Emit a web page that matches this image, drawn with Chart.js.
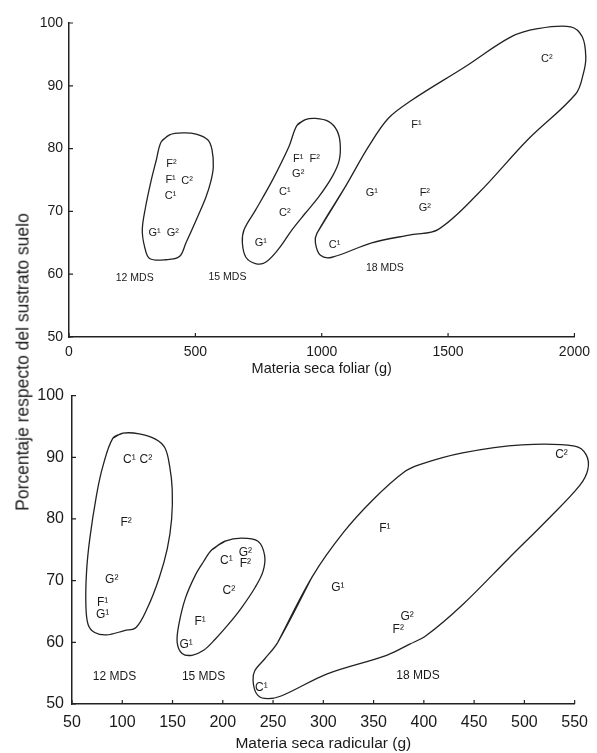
<!DOCTYPE html>
<html>
<head>
<meta charset="utf-8">
<script src="https://cdn.jsdelivr.net/npm/chart.js@4.4.0/dist/chart.umd.min.js"></script>
<style>
  html, body { margin: 0; padding: 0; background: #fff; }
  #wrap { position: relative; width: 597px; height: 753px; }
  #topBox { position: absolute; left: 0; top: 0; width: 597px; height: 378px; }
  #botBox { position: absolute; left: 0; top: 378px; width: 597px; height: 375px; }
  #ytitle {
    position: absolute; left: 23px; top: 362px;
    transform: translate(-50%, -50%) rotate(-90deg);
    white-space: nowrap; color: #1a1a1a;
    font: 17.5px "Liberation Sans", Arial, sans-serif;
  }
</style>
</head>
<body>
<div id="wrap">
  <div id="topBox"><canvas id="foliarChart"></canvas></div>
  <div id="botBox"><canvas id="radicularChart"></canvas></div>
  <div id="ytitle">Porcentaje respecto del sustrato suelo</div>
</div>
<script>
  // ---- shared ----
  const yTicks = [50, 60, 70, 80, 90, 100];
  const groupNames = ['12 MDS', '15 MDS', '18 MDS'];

  // ---- top: materia seca foliar ----
  const foliarTicks = [0, 500, 1000, 1500, 2000];
  const foliarPtLabels = ['F²', 'F¹', 'C²', 'C¹', 'G¹', 'G²',
                          'F¹', 'F²', 'G²', 'C¹', 'C²', 'G¹',
                          'C²', 'F¹', 'G¹', 'F²', 'G²', 'C¹'];
  const foliarPtX = [405, 402, 467, 402, 339, 411,
                     907, 972, 907, 854, 854, 759,
                     1891, 1375, 1198, 1408, 1408, 1051];
  const foliarPtY = [77.6, 75.0, 74.9, 72.4, 66.5, 66.5,
                     78.3, 78.3, 75.9, 73.1, 69.7, 64.9,
                     94.2, 83.7, 72.9, 72.9, 70.6, 64.6];
  const foliarGroupX = [260, 627, 1250];
  const foliarGroupY = [59.4, 59.6, 60.9];

  // envelopes (outline vertices, clockwise)
  const foliarEnv12X = [365, 398, 450, 503, 549, 566, 571, 562, 542, 503, 463, 437, 385, 319, 299, 290, 303, 325, 345];
  const foliarEnv12Y = [81.1, 82.2, 82.5, 82.3, 81.4, 79.8, 77.1, 74.9, 72.3, 68.6, 65.0, 62.8, 62.3, 62.5, 64.4, 67.1, 70.7, 74.9, 78.1];
  const foliarEnv15X = [902, 935, 975, 1028, 1060, 1073, 1069, 1041, 988, 935, 883, 831, 778, 738, 700, 686, 693, 738, 804, 870];
  const foliarEnv15Y = [83.7, 84.6, 84.8, 84.3, 82.9, 80.8, 78.1, 75.5, 72.3, 69.7, 67.1, 64.1, 61.9, 61.7, 62.7, 65.0, 67.1, 70.2, 74.9, 80.3];
  const foliarEnv18X = [981, 1093, 1185, 1263, 1356, 1566, 1749, 1854, 1985, 2031, 2045, 2035, 2005, 1815, 1618, 1460, 1356, 1198, 1041, 995, 975];
  const foliarEnv18Y = [66.5, 73.9, 80.3, 84.8, 87.7, 93.0, 97.8, 99.1, 99.4, 97.8, 94.6, 91.9, 88.7, 81.4, 72.8, 67.1, 66.3, 65.0, 62.7, 63.0, 65.0];

  // ---- bottom: materia seca radicular ----
  const radicTicks = [50, 100, 150, 200, 250, 300, 350, 400, 450, 500, 550];
  const radicPtLabels = ['C¹', 'C²', 'F²', 'G²', 'F¹', 'G¹',
                         'C¹', 'G²', 'F²', 'C²', 'F¹', 'G¹',
                         'C²', 'F¹', 'G¹', 'G²', 'F²', 'C¹'];
  const radicPtX = [107, 123.5, 103.8, 89.5, 80.5, 80.5,
                    203.5, 222.5, 222.5, 206, 177.5, 163.5,
                    536.9, 361.3, 314.5, 383.4, 374.5, 238.3];
  const radicPtY = [89.6, 89.6, 79.4, 70.2, 66.4, 64.5,
                    73.3, 74.6, 72.8, 68.3, 63.4, 59.6,
                    90.4, 78.4, 68.8, 64.1, 62.1, 52.7];
  const radicGroupX = [92.3, 180.9, 394.2];
  const radicGroupY = [54.4, 54.4, 54.6];

  const radicEnv12X = [90.7, 100.5, 116.9, 133.4, 142.5, 147.1, 149.7, 149.1, 144.8, 136.6, 125.1, 113.7, 102.2, 84.2, 72.6, 66.0, 63.8, 64.5, 67.7, 74.3, 80.8];
  const radicEnv12Y = [93.1, 93.9, 93.8, 92.9, 91.5, 88.6, 84.8, 80.0, 75.2, 70.4, 65.6, 62.4, 61.9, 61.2, 61.6, 62.9, 66.1, 71.5, 76.8, 83.8, 88.6];
  const radicEnv15X = [189.1, 202.3, 218.6, 235.0, 241.6, 240.0, 231.8, 218.6, 205.5, 192.4, 180.9, 169.4, 159.5, 154.6, 156.3, 162.9, 172.7, 180.9];
  const radicEnv15Y = [75.0, 76.4, 76.9, 76.4, 74.1, 71.5, 68.8, 65.6, 62.9, 60.5, 58.7, 57.9, 58.2, 60.0, 62.9, 67.2, 70.9, 73.1];
  const radicEnv18X = [254.7, 289.2, 320.4, 349.9, 379.4, 395.8, 438.5, 497.5, 550.0, 561.5, 563.1, 554.9, 523.7, 484.3, 438.5, 402.4, 385.9, 363.0, 303.9, 258.0, 241.6, 233.4, 230.1, 231.8, 241.6];
  const radicEnv18Y = [60.0, 70.7, 77.9, 83.2, 87.5, 88.8, 90.7, 92.0, 91.8, 90.4, 88.0, 85.4, 80.0, 73.6, 66.1, 61.1, 59.7, 57.9, 54.9, 51.3, 50.9, 51.7, 53.8, 55.4, 57.3];

  const FONT = '"Liberation Sans", Arial, Helvetica, sans-serif';
  const INK = '#1a1a1a';

  function toPoints(xs, ys) {
    return xs.map((x, i) => ({ x: x, y: ys[i] }));
  }
  function closedLoop(xs, ys) {
    const pts = toPoints(xs, ys);
    pts.push(pts[0], pts[1]);
    return pts;
  }

  function envelope(xs, ys) {
    return {
      data: closedLoop(xs, ys),
      showLine: true,
      tension: 0.35,
      borderColor: '#222',
      borderWidth: 1.3,
      pointRadius: 0,
      fill: false,
      clip: false
    };
  }

  function textSet(xs, ys, texts, size) {
    return {
      data: toPoints(xs, ys),
      texts: texts,
      textSize: size,
      showLine: false,
      pointRadius: 0,
      pointHoverRadius: 0
    };
  }

  // draws the text labels at the point positions
  const textPointsPlugin = {
    id: 'textPoints',
    afterDatasetsDraw(chart) {
      const ctx = chart.ctx;
      chart.data.datasets.forEach((ds, i) => {
        if (!ds.texts) return;
        const meta = chart.getDatasetMeta(i);
        ctx.save();
        ctx.fillStyle = INK;
        ctx.font = ds.textSize + 'px ' + FONT;
        ctx.textAlign = 'center';
        ctx.textBaseline = 'middle';
        meta.data.forEach((pt, j) => {
          ctx.fillText(ds.texts[j], pt.x, pt.y);
        });
        ctx.restore();
      });
    }
  };

  // little tick marks pointing into the plot
  const innerTicksPlugin = {
    id: 'innerTicks',
    afterDraw(chart) {
      const ctx = chart.ctx;
      const a = chart.chartArea;
      const xs = chart.scales.x, ys = chart.scales.y;
      ctx.save();
      ctx.strokeStyle = '#222';
      ctx.lineWidth = 1.2;
      ctx.beginPath();
      xs.ticks.forEach(t => {
        const p = xs.getPixelForValue(t.value);
        ctx.moveTo(p, a.bottom);
        ctx.lineTo(p, a.bottom - 4);
      });
      ys.ticks.forEach(t => {
        const p = ys.getPixelForValue(t.value);
        ctx.moveTo(a.left, p);
        ctx.lineTo(a.left + 4, p);
      });
      ctx.stroke();
      ctx.restore();
    }
  };

  function makeOptions(cfg) {
    return {
      responsive: true,
      maintainAspectRatio: false,
      animation: false,
      layout: { padding: cfg.padding },
      plugins: { legend: { display: false }, tooltip: { enabled: false } },
      scales: {
        x: {
          type: 'linear',
          min: cfg.xTicks[0],
          max: cfg.xTicks[cfg.xTicks.length - 1],
          afterBuildTicks: s => { s.ticks = cfg.xTicks.map(v => ({ value: v })); },
          afterFit: s => { s.height = cfg.xHeight; },
          grid: { display: true, drawOnChartArea: false, drawTicks: false },
          border: { display: true, color: '#222', width: 1.5 },
          ticks: { color: INK, font: { family: FONT, size: cfg.tickSize }, padding: cfg.xPad, maxRotation: 0,
                   callback: v => String(v) },
          title: { display: true, text: cfg.xTitle, color: INK, font: { family: FONT, size: cfg.titleSize }, padding: { top: 0, bottom: 0 } }
        },
        y: {
          type: 'linear',
          min: 50,
          max: 100,
          afterBuildTicks: s => { s.ticks = yTicks.map(v => ({ value: v })); },
          afterFit: s => { s.width = cfg.yWidth; },
          grid: { display: true, drawOnChartArea: false, drawTicks: false },
          border: { display: true, color: '#222', width: 1.5 },
          ticks: { color: INK, font: { family: FONT, size: cfg.tickSize }, padding: cfg.yPad,
                   callback: v => String(v) }
        }
      }
    };
  }

  // View - top
  new Chart(document.getElementById('foliarChart'), {
    type: 'scatter',
    data: {
      datasets: [
        envelope(foliarEnv12X, foliarEnv12Y),
        envelope(foliarEnv15X, foliarEnv15Y),
        envelope(foliarEnv18X, foliarEnv18Y),
        textSet(foliarPtX, foliarPtY, foliarPtLabels, 11),
        textSet(foliarGroupX, foliarGroupY, groupNames, 10.5)
      ]
    },
    options: makeOptions({
      padding: { left: 0, right: 20, top: 23, bottom: 0 },
      xTicks: foliarTicks, xHeight: 41, yWidth: 69,
      tickSize: 14, titleSize: 14.5, xPad: 7, yPad: 6,
      xTitle: 'Materia seca foliar (g)'
    }),
    plugins: [textPointsPlugin, innerTicksPlugin]
  });

  // View - bottom
  new Chart(document.getElementById('radicularChart'), {
    type: 'scatter',
    data: {
      datasets: [
        envelope(radicEnv12X, radicEnv12Y),
        envelope(radicEnv15X, radicEnv15Y),
        envelope(radicEnv18X, radicEnv18Y),
        textSet(radicPtX, radicPtY, radicPtLabels, 12),
        textSet(radicGroupX, radicGroupY, groupNames, 12)
      ]
    },
    options: makeOptions({
      padding: { left: 0, right: 15, top: 14, bottom: 0 },
      xTicks: radicTicks, xHeight: 49, yWidth: 72,
      tickSize: 16, titleSize: 15.5, xPad: 9, yPad: 8,
      xTitle: 'Materia seca radicular (g)'
    }),
    plugins: [textPointsPlugin, innerTicksPlugin]
  });
</script>
</body>
</html>
